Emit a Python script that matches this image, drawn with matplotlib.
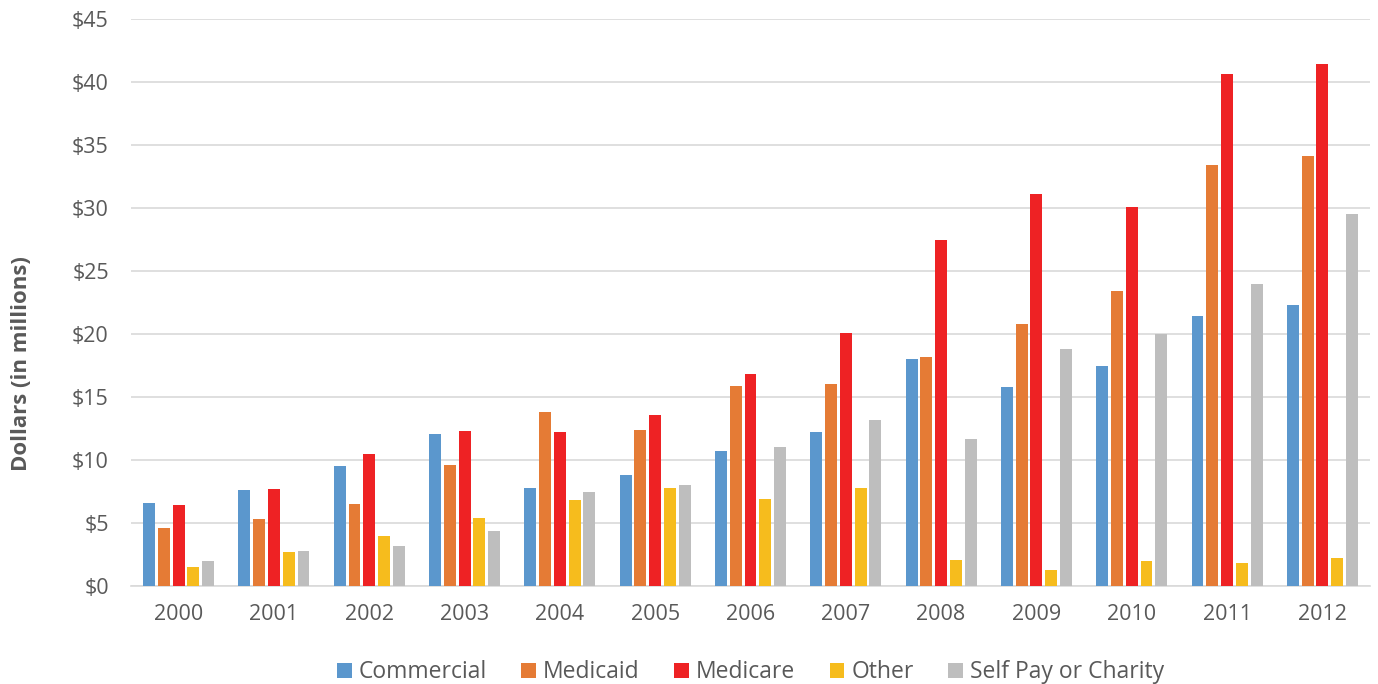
import numpy as np
import matplotlib
matplotlib.use("Agg")
import matplotlib.pyplot as plt
from matplotlib.ticker import FuncFormatter

plt.rcParams['font.family'] = ['Open Sans', 'DejaVu Sans']

years = ["2000", "2001", "2002", "2003", "2004", "2005", "2006",
         "2007", "2008", "2009", "2010", "2011", "2012"]
commercial = [6.6, 7.6, 9.5, 12.1, 7.8, 8.8, 10.7, 12.2, 18.0, 15.8, 17.5, 21.4, 22.3]
medicaid = [4.6, 5.3, 6.5, 9.6, 13.8, 12.4, 15.9, 16.0, 18.2, 20.8, 23.4, 33.4, 34.1]
medicare = [6.4, 7.7, 10.5, 12.3, 12.2, 13.6, 16.8, 20.1, 27.5, 31.1, 30.1, 40.6, 41.4]
other = [1.5, 2.7, 4.0, 5.4, 6.8, 7.8, 6.9, 7.8, 2.1, 1.3, 2.0, 1.8, 2.2]
self_pay = [2.0, 2.8, 3.2, 4.4, 7.5, 8.0, 11.0, 13.2, 11.7, 18.8, 20.0, 24.0, 29.5]

series = [
    ("Commercial", commercial, "#5B97CD"),
    ("Medicaid", medicaid, "#E57B35"),
    ("Medicare", medicare, "#EE2224"),
    ("Other", other, "#F6BC1D"),
    ("Self Pay or Charity", self_pay, "#BEBEBE"),
]

fig = plt.figure(figsize=(13.78, 6.84), dpi=100)
ax = fig.add_axes([131 / 1378, 1 - 586 / 684, 1239 / 1378, 567 / 684])

x = np.arange(len(years))
step = 0.155
width = 0.125
for i, (name, vals, col) in enumerate(series):
    ax.bar(x + (i - 2) * step, vals, width, color=col, label=name, zorder=3)

ax.set_xlim(-0.5, len(years) - 0.5)
ax.set_ylim(0, 45)
ax.set_yticks(np.arange(0, 46, 5))
ax.yaxis.set_major_formatter(FuncFormatter(lambda v, p: "${:.0f}".format(v)))
ax.set_xticks(x)
ax.set_xticklabels(years)
ax.grid(axis='y', color='#D9D9D9', linewidth=1.2, zorder=0)
for s in ['top', 'right', 'left']:
    ax.spines[s].set_visible(False)
ax.spines['bottom'].set_color('#D9D9D9')
ax.spines['bottom'].set_linewidth(1.2)
ax.tick_params(axis='both', length=0, labelsize=15.5, labelcolor='#595959')
ax.tick_params(axis='x', pad=13)
ax.tick_params(axis='y', pad=16)

# y label sits a bit below the axis centre in the original
fig.text(22 / 1378, 1 - 364 / 684, "Dollars (in millions)", rotation=90,
         ha='center', va='center', fontsize=16, fontweight='bold', color='#595959')

ax.legend(loc='upper center', bbox_to_anchor=(0.5, -0.095), ncol=5, frameon=False,
          fontsize=16.5, labelcolor='#595959', handlelength=0.65, handleheight=0.65,
          handletextpad=0.3, columnspacing=1.5)

fig.savefig("out.png", dpi=100)
